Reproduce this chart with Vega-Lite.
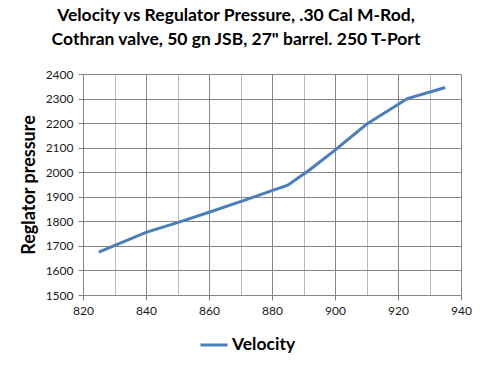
{
  "$schema": "https://vega.github.io/schema/vega-lite/v6.json",
  "width": 378,
  "height": 221,
  "autosize": {"type": "none"},
  "padding": {"left": 83, "top": 74, "right": 27, "bottom": 74},
  "background": "white",
  "title": {
    "text": ["Velocity vs Regulator Pressure, .30 Cal M-Rod,", "Cothran valve, 50 gn JSB, 27\" barrel. 250 T-Port"],
    "font": "Lato",
    "fontSize": 17.5,
    "fontWeight": "bold",
    "color": "#000000",
    "anchor": "middle",
    "dx": -36,
    "lineHeight": 23.5,
    "offset": 20
  },
  "data": {
    "values": [
      {"velocity": 825, "pressure": 1675, "series": "Velocity"},
      {"velocity": 840, "pressure": 1755, "series": "Velocity"},
      {"velocity": 850, "pressure": 1795, "series": "Velocity"},
      {"velocity": 860, "pressure": 1837, "series": "Velocity"},
      {"velocity": 870, "pressure": 1880, "series": "Velocity"},
      {"velocity": 880, "pressure": 1925, "series": "Velocity"},
      {"velocity": 885, "pressure": 1947, "series": "Velocity"},
      {"velocity": 892, "pressure": 2010, "series": "Velocity"},
      {"velocity": 900, "pressure": 2090, "series": "Velocity"},
      {"velocity": 910, "pressure": 2195, "series": "Velocity"},
      {"velocity": 923, "pressure": 2300, "series": "Velocity"},
      {"velocity": 935, "pressure": 2345, "series": "Velocity"}
    ]
  },
  "mark": {"type": "line", "strokeWidth": 3, "interpolate": "linear"},
  "encoding": {
    "x": {
      "field": "velocity",
      "type": "quantitative",
      "scale": {"domain": [820, 940], "nice": false, "zero": false},
      "axis": {
        "title": null,
        "values": [820, 830, 840, 850, 860, 870, 880, 890, 900, 910, 920, 930, 940],
        "labelExpr": "datum.value % 20 === 0 ? datum.label : ''",
        "format": "d",
        "grid": true,
        "gridColor": {"condition": {"test": "datum.value % 20 === 0", "value": "#868686"}, "value": "#b8b8b8"},
        "gridOpacity": 1,
        "gridWidth": 1,
        "tickColor": {"condition": {"test": "datum.value % 20 === 0", "value": "#868686"}, "value": "transparent"},
        "tickSize": 5,
        "domainColor": "#868686",
        "labelFont": "Lato",
        "labelFontSize": 12,
        "labelColor": "#1a1a1a",
        "labelPadding": 5,
        "labelFlush": false
      }
    },
    "y": {
      "field": "pressure",
      "type": "quantitative",
      "scale": {"domain": [1500, 2400], "nice": false, "zero": false},
      "axis": {
        "title": "Reglator pressure",
        "titleFont": "Lato",
        "titleFontSize": 18,
        "titleFontWeight": "bold",
        "titleColor": "#000000",
        "titlePadding": 7,
        "values": [1500, 1600, 1700, 1800, 1900, 2000, 2100, 2200, 2300, 2400],
        "format": "d",
        "grid": true,
        "gridColor": "#868686",
        "gridOpacity": 1,
        "tickColor": "#868686",
        "tickSize": 5,
        "domainColor": "#868686",
        "labelFont": "Lato",
        "labelFontSize": 12,
        "labelColor": "#1a1a1a",
        "labelPadding": 5
      }
    },
    "color": {
      "field": "series",
      "type": "nominal",
      "scale": {"range": ["#4A7EBB"]},
      "legend": {
        "title": null,
        "orient": "none",
        "legendX": 116,
        "legendY": 256,
        "symbolType": "stroke",
        "symbolSize": 729,
        "symbolStrokeWidth": 3,
        "labelFont": "Lato",
        "labelFontSize": 17.5,
        "labelFontWeight": "bold",
        "labelColor": "#000000",
        "labelOffset": 3
      }
    }
  },
  "config": {"view": {"stroke": null}}
}
